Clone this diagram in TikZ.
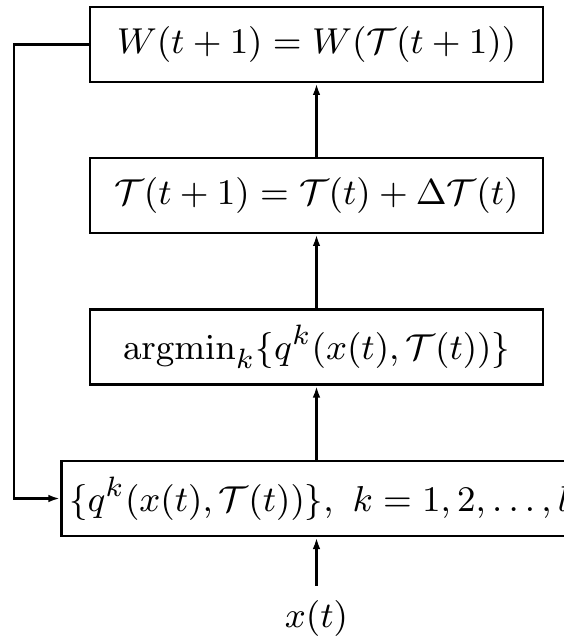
\documentclass[tikz,border=0pt]{standalone}
\usepackage{amsmath}
\usetikzlibrary{arrows.meta}
\tikzset{
  box/.style={draw, line width=0.7pt, minimum width=113.25pt, minimum height=18.75pt, inner sep=0pt},
  conn/.style={line width=0.6pt, -{Latex[length=2.9pt,width=1.9pt]}},
  plain/.style={line width=0.6pt}
}
\begin{document}
\begin{tikzpicture}[x=0.25pt, y=-0.25pt, font=\fontsize{9.5pt}{11pt}\selectfont]
\useasboundingbox (0,0) rectangle (564,639);
\clip (0,0) rectangle (564,639);
\node[box] (w) at (316.5,44.5) {$W(t+1) = W(\mathcal{T}(t+1))$};
\node[box] (tau) at (316.5,195.5) {$\mathcal{T}(t+1) = \mathcal{T}(t) + \Delta\mathcal{T}(t)$};
\node[box] (am) at (316.5,347) {$\mathrm{argmin}_k\{q^k(x(t),\mathcal{T}(t))\}$};
\node[draw, line width=0.7pt, minimum height=18.75pt, inner ysep=0pt, inner xsep=1.9pt, anchor=west] (q) at (60,498.5) {$\{q^k(x(t),\mathcal{T}(t))\},\ k=1,2,\ldots,l$\hspace{20pt}};
\node (x) at (316.5,618) {$x(t)$};
\coordinate (fb) at (14,44.5);
\draw[conn] (x.north) -- (x.north |- q.south);
\draw[conn] (q.north -| x.north) -- (am.south -| x.north);
\draw[conn] (am.north) -- (tau.south);
\draw[conn] (tau.north) -- (w.south);
\draw[conn] (w.west) -- (fb) |- (q.west);
\end{tikzpicture}
\end{document}
